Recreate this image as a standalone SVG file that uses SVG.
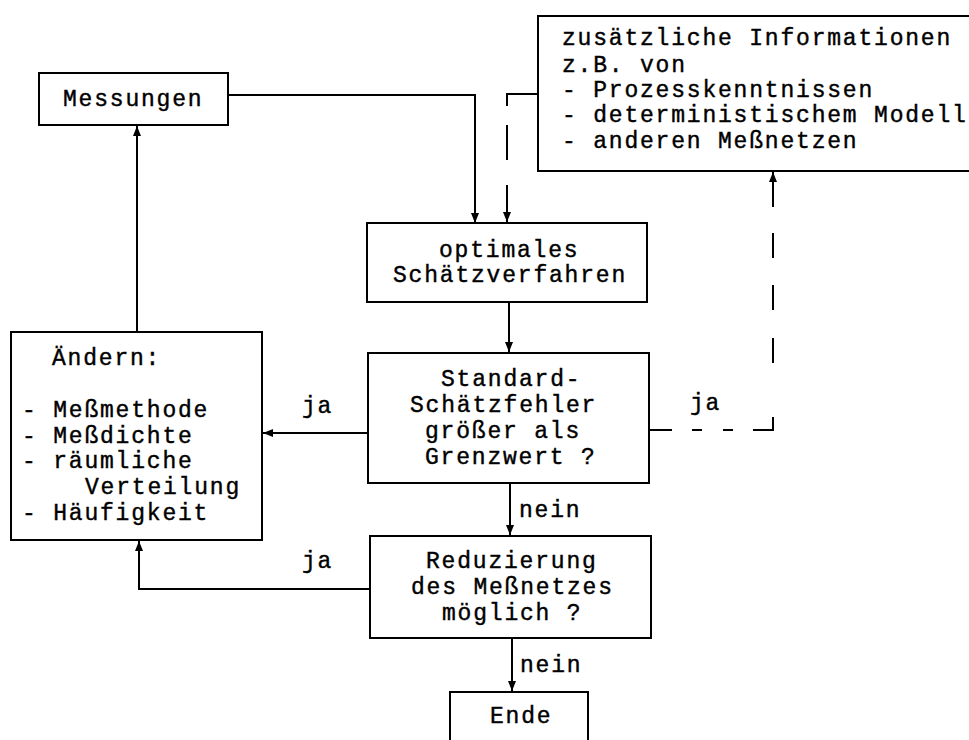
<svg xmlns="http://www.w3.org/2000/svg" width="969" height="740" viewBox="0 0 969 740">
<defs>
<style>
.box{fill:#fff;stroke:#000;stroke-width:2}
.ln{fill:none;stroke:#000;stroke-width:2}
text{font-family:"Liberation Mono","Courier New",monospace;font-size:23px;letter-spacing:1.8px;fill:#000;stroke:#000;stroke-width:0.4}
</style>
<marker id="ah" viewBox="0 0 10 10" refX="10" refY="5" markerWidth="10" markerHeight="10" markerUnits="userSpaceOnUse" orient="auto">
<path d="M0,1 L10,5 L0,9 Z" fill="#000"/>
</marker>
</defs>
<rect width="969" height="740" fill="#fff"/>
<g id="connectors">
<path class="ln" d="M228,95 H475 V223" marker-end="url(#ah)"/>
<path class="ln" d="M538,94 H507 V106 M507,125 V160 M507,185 V222" marker-end="url(#ah)"/>
<path class="ln" d="M509,302 V352" marker-end="url(#ah)"/>
<path class="ln" d="M368,433 H263" marker-end="url(#ah)"/>
<path class="ln" d="M137,332 V126" marker-end="url(#ah)"/>
<path class="ln" d="M510,483 V535" marker-end="url(#ah)"/>
<path class="ln" d="M370,589 H139 V541" marker-end="url(#ah)"/>
<path class="ln" d="M512,638 V691" marker-end="url(#ah)"/>
<path class="ln" d="M649,430 H672 M692,430 H702 M723,430 H733 M753,430 H773 V417 M773,363 V338 M773,310 V285 M773,258 V233 M773,207 V172" marker-end="url(#ah)"/>
<text x="302" y="413">ja</text>
<text x="302" y="568">ja</text>
<text x="690" y="410">ja</text>
<text x="519" y="517">nein</text>
<text x="520" y="672">nein</text>
</g>
<g id="messungen">
<rect class="box" x="39" y="73" width="189" height="52"/>
<text x="63" y="106">Messungen</text>
</g>
<g id="info">
<rect class="box" x="538" y="16" width="450" height="155"/>
<text x="562" y="45">zusätzliche Informationen</text>
<text x="562" y="72">z.B. von</text>
<text x="562" y="97">- Prozesskenntnissen</text>
<text x="562" y="122">- deterministischem Modell</text>
<text x="562" y="148">- anderen Meßnetzen</text>
</g>
<g id="schaetzverfahren">
<rect class="box" x="367" y="223" width="280" height="79"/>
<text x="439" y="257">optimales</text>
<text x="393" y="282">Schätzverfahren</text>
</g>
<g id="aendern">
<rect class="box" x="11" y="332" width="251" height="208"/>
<text x="52" y="365">Ändern:</text>
<text x="22" y="417">- Meßmethode</text>
<text x="22" y="443">- Meßdichte</text>
<text x="22" y="468">- räumliche</text>
<text x="85" y="494">Verteilung</text>
<text x="22" y="520">- Häufigkeit</text>
</g>
<g id="standardfehler">
<rect class="box" x="368" y="353" width="281" height="130"/>
<text x="441" y="386">Standard-</text>
<text x="410" y="412">Schätzfehler</text>
<text x="425" y="438">größer als</text>
<text x="425" y="464">Grenzwert ?</text>
</g>
<g id="reduzierung">
<rect class="box" x="370" y="536" width="281" height="102"/>
<text x="426" y="568">Reduzierung</text>
<text x="411" y="594">des Meßnetzes</text>
<text x="442" y="620">möglich ?</text>
</g>
<g id="ende">
<rect class="box" x="450" y="692" width="138" height="60"/>
<text x="490" y="723">Ende</text>
</g>
</svg>
